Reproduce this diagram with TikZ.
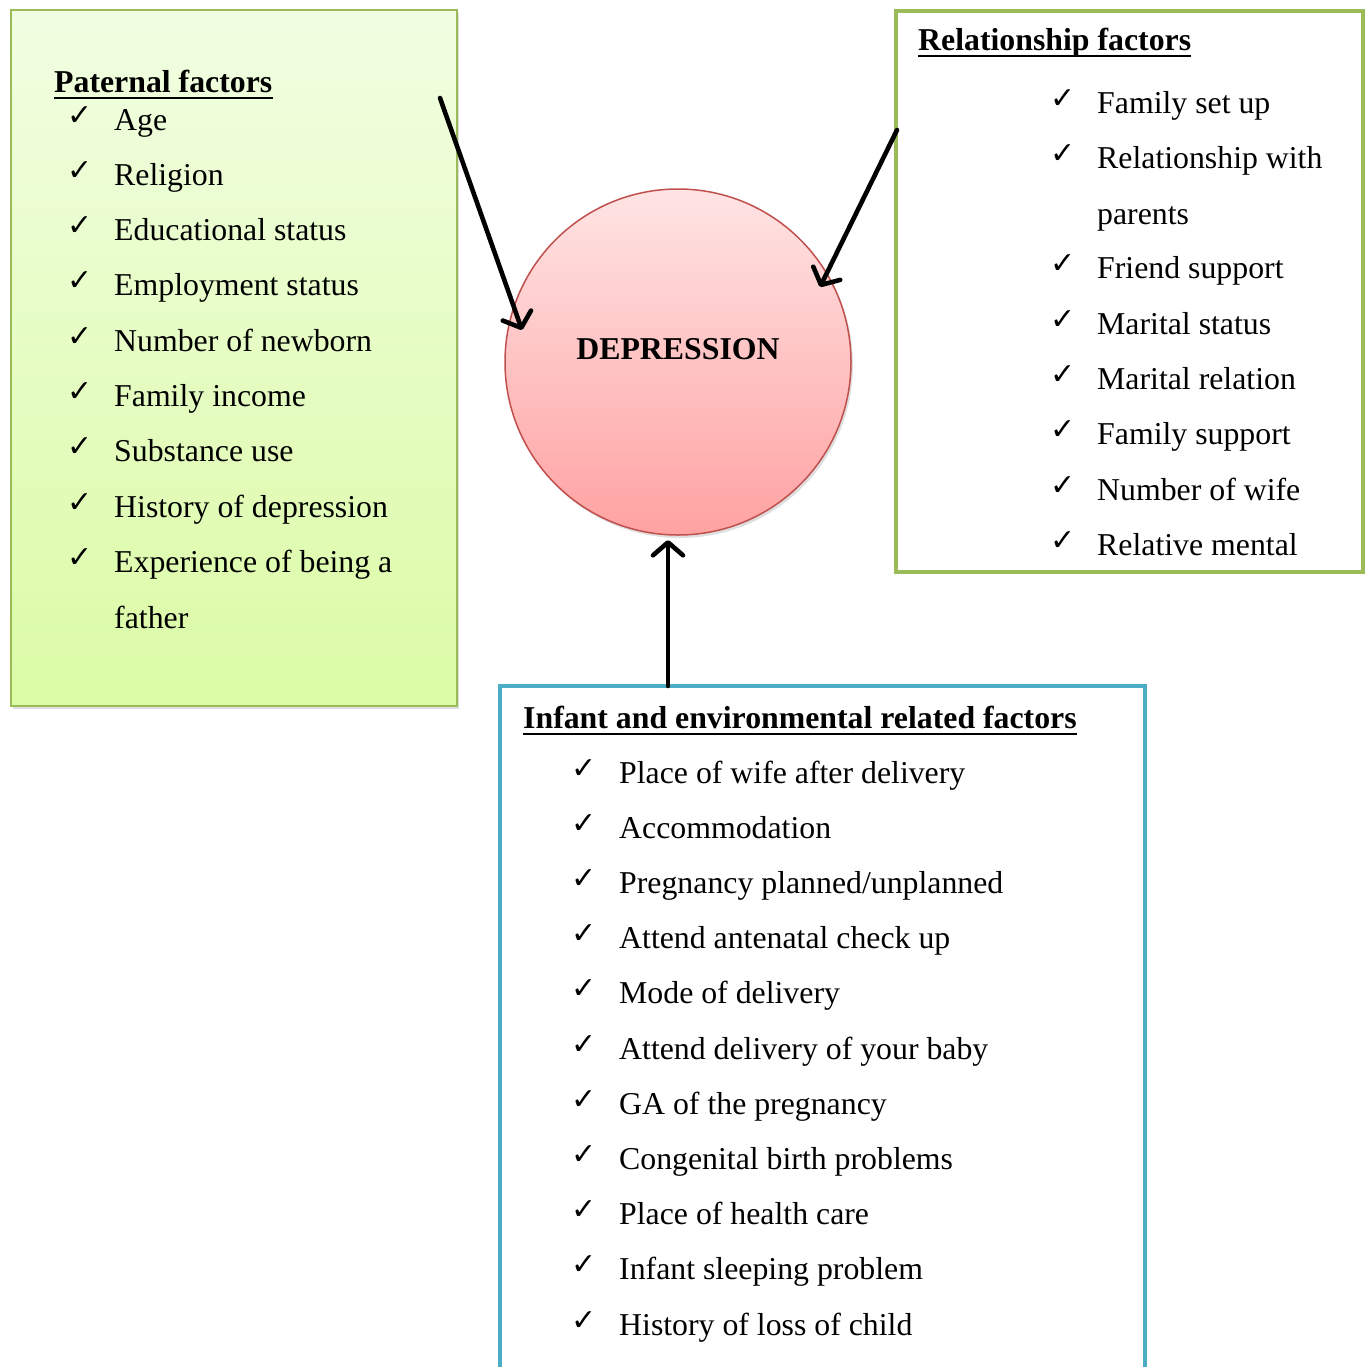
\documentclass[tikz,border=0pt]{standalone}
\usepackage{fontspec}
\setmainfont{Liberation Serif}
\newfontfamily\symfont{DejaVu Sans}
\usetikzlibrary{arrows.meta,shadows}
\definecolor{boxgreen}{HTML}{9BBB59}
\definecolor{boxblue}{HTML}{4BACC6}
\definecolor{circred}{HTML}{C0504D}
\definecolor{lgtop}{HTML}{F1FEE2}
\definecolor{lgbot}{HTML}{DBFBA5}
\definecolor{ctop}{HTML}{FFE4E4}
\definecolor{cbot}{HTML}{FFA2A2}
\begin{document}
\begin{tikzpicture}[x=1pt,y=-1pt,
 txt/.style={anchor=base west, inner sep=0pt, font=\fontsize{31.8}{38}\selectfont},
 hdr/.style={anchor=base west, inner sep=0pt, font=\fontsize{31.8}{38}\selectfont\bfseries},
 chk/.style={anchor=base west, inner sep=0pt, font=\symfont\bfseries\fontsize{30}{30}\selectfont},
 uline/.style={line width=2.6pt},
 arr/.style={line width=4.6pt, line cap=round, -{Straight Barb[length=13pt,width=30pt,line width=4.6pt,round]}},
 softshadow/.style={drop shadow={opacity=0.25, shadow xshift=2pt, shadow yshift=-3pt}},
]
\useasboundingbox (0,0) rectangle (1370,1366);

% left box
\node[draw=boxgreen, line width=1.8pt, top color=lgtop, bottom color=lgbot,
      minimum width=446, minimum height=696, anchor=north west, inner sep=0pt,
      softshadow] (lbox) at (10,9) {};
% right box
\node[draw=boxgreen, line width=4pt, fill=white,
      minimum width=467, minimum height=561, anchor=north west, inner sep=0pt] (rbox) at (894,9) {};
% bottom box (open at the bottom edge of the picture)
\fill[white] (500,686) rectangle (1145,1366);
\draw[boxblue, line width=4pt] (500,1368) -- (500,686) -- (1145,686) -- (1145,1368);

% circle
\node[circle, draw=circred, line width=1.5pt, top color=ctop, bottom color=cbot,
      minimum size=346, inner sep=0pt, softshadow] (dep) at (678,362) {};
\node[inner sep=0pt, font=\fontsize{31.8}{38}\selectfont\bfseries] (deplabel) at (678,349) {DEPRESSION};

% Paternal factors
\node[hdr] (phdr) at (54,92) {Paternal factors};
\draw[uline] ([yshift=-6pt]phdr.base west) -- ([yshift=-6pt]phdr.base east);
\foreach \t [count=\i] in {Age, Religion, Educational status, Employment status,
   Number of newborn, Family income, Substance use, History of depression,
   Experience of being a}{
  \node[chk] (pc\i) at (67,{130+(\i-1)*55.3-5}) {✓};
  \node[txt] (pt\i) at (114,{130+(\i-1)*55.3}) {\t};
}
\node[txt] (pt10) at (114,628) {father};

% Relationship factors
\node[hdr] (rhdr) at (918,50) {Relationship factors};
\draw[uline] ([yshift=-6pt]rhdr.base west) -- ([yshift=-6pt]rhdr.base east);
\foreach \t/\k in {Family set up/1, Relationship with/2, Friend support/4,
   Marital status/5, Marital relation/6, Family support/7, Number of wife/8,
   Relative mental/9}{
  \node[chk] (rc\k) at (1050,{113+(\k-1)*55.3-5}) {✓};
  \node[txt] (rt\k) at (1097,{113+(\k-1)*55.3}) {\t};
}
\node[txt] (rt3) at (1097,224) {parents};

% Infant and environmental related factors
\node[hdr] (ihdr) at (523,728) {Infant and environmental related factors};
\draw[uline] ([yshift=-6pt]ihdr.base west) -- ([yshift=-6pt]ihdr.base east);
\foreach \t [count=\i] in {Place of wife after delivery, Accommodation,
   Pregnancy planned/unplanned, Attend antenatal check up, Mode of delivery,
   Attend delivery of your baby, GA of the pregnancy, Congenital birth problems,
   Place of health care, Infant sleeping problem, History of loss of child}{
  \node[chk] (ic\i) at (571,{783+(\i-1)*55.2-5}) {✓};
  \node[txt] (it\i) at (619,{783+(\i-1)*55.2}) {\t};
}

% arrows
\coordinate (a1s) at (440,98);
\coordinate (a1e) at (522,330);
\coordinate (a2s) at (897,130);
\coordinate (a2e) at (820,287);
\coordinate (a3s) at (668,686);
\coordinate (a3e) at (668,540);
\draw[arr] (a1s) -- (a1e);
\draw[arr] (a2s) -- (a2e);
\draw[arr] (a3s) -- (a3e);
\end{tikzpicture}
\end{document}
